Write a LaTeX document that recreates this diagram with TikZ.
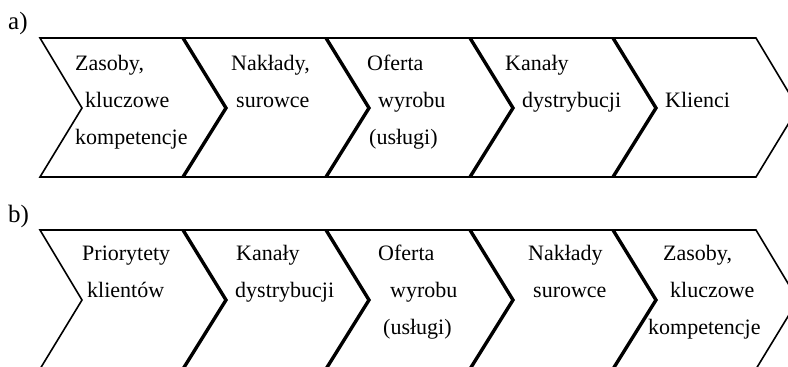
\documentclass[tikz,border=0pt]{standalone}
\usepackage{fontspec}
\setmainfont{Liberation Serif}
\begin{document}
\begin{tikzpicture}[x=1pt,y=-1pt,
    outline/.style={line width=1.6pt, line join=miter},
    divider/.style={line width=3.4pt},
    lbl/.style={anchor=base west, inner sep=0pt, font=\fontsize{22}{26}\selectfont},
    tag/.style={anchor=base west, inner sep=0pt, font=\fontsize{25}{28}\selectfont}]
    \useasboundingbox (0,0) rectangle (788,367);

    \begin{scope}
    \clip (0,0) rectangle (788,367);
    \foreach \y in {38,230} {
        \draw[outline] (40,\y) -- (756,\y) -- ++(42,70) -- ++(-42,69)
            -- (40,{\y+139}) -- ++(42,-69) -- cycle;
        \foreach \x in {183,326,470,613}
            \draw[divider] (\x,\y) -- ++(43,70) -- ++(-43,69);
    }
    \end{scope}

    \node[tag] (taga) at (8,29) {a)};
    \node[tag] (tagb) at (8,222) {b)};

    % a)
    \node[lbl] (a1l1) at (75,70) {Zasoby,};
    \node[lbl] (a1l2) at (85,107) {kluczowe};
    \node[lbl] (a1l3) at (75,144) {kompetencje};
    \node[lbl] (a2l1) at (231,70) {Nakłady,};
    \node[lbl] (a2l2) at (236,107) {surowce};
    \node[lbl] (a3l1) at (367,70) {Oferta};
    \node[lbl] (a3l2) at (378,107) {wyrobu};
    \node[lbl] (a3l3) at (369,144) {(usługi)};
    \node[lbl] (a4l1) at (505,70) {Kanały};
    \node[lbl] (a4l2) at (522,107) {dystrybucji};
    \node[lbl] (a5l1) at (665,107) {Klienci};

    % b)
    \node[lbl] (b1l1) at (82,260) {Priorytety};
    \node[lbl] (b1l2) at (87,297) {klientów};
    \node[lbl] (b2l1) at (236,260) {Kanały};
    \node[lbl] (b2l2) at (235,297) {dystrybucji};
    \node[lbl] (b3l1) at (378,260) {Oferta};
    \node[lbl] (b3l2) at (390,297) {wyrobu};
    \node[lbl] (b3l3) at (383,334) {(usługi)};
    \node[lbl] (b4l1) at (528,260) {Nakłady};
    \node[lbl] (b4l2) at (533,297) {surowce};
    \node[lbl] (b5l1) at (663,260) {Zasoby,};
    \node[lbl] (b5l2) at (670,297) {kluczowe};
    \node[lbl] (b5l3) at (648,334) {kompetencje};
\end{tikzpicture}
\end{document}
